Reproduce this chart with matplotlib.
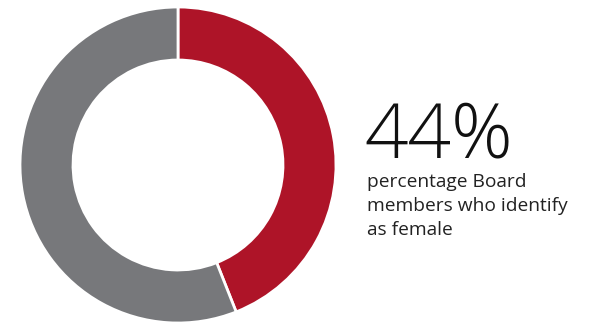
import matplotlib.pyplot as plt

# share of board members
labels = ['Female', 'Other']
values = [44, 56]
colors = ['#AE1428', '#77787B']
headline = '44%'
caption = 'percentage Board\nmembers who identify\nas female'

fig = plt.figure(figsize=(5.99, 3.23), dpi=100)
ax = fig.add_axes([0, 0, 1, 1])

ax.pie(values, colors=colors, startangle=90, counterclock=False,
       center=(178, 158), radius=158,
       wedgeprops=dict(width=53, edgecolor='white', linewidth=2))

# pie() resets the limits, so set pixel-like limits afterwards
ax.set_xlim(0, 599)
ax.set_ylim(0, 323)
ax.set_aspect('equal')
ax.axis('off')

ax.text(364, 165, headline, fontsize=55, family=['Open Sans', 'DejaVu Sans'],
        fontweight='light', color='#111111', va='baseline', ha='left')
ax.text(367, 150, caption, fontsize=13.8, family=['Open Sans', 'DejaVu Sans'],
        color='#222222', va='top', ha='left', linespacing=1.42)

plt.savefig('out.png', dpi=100)
